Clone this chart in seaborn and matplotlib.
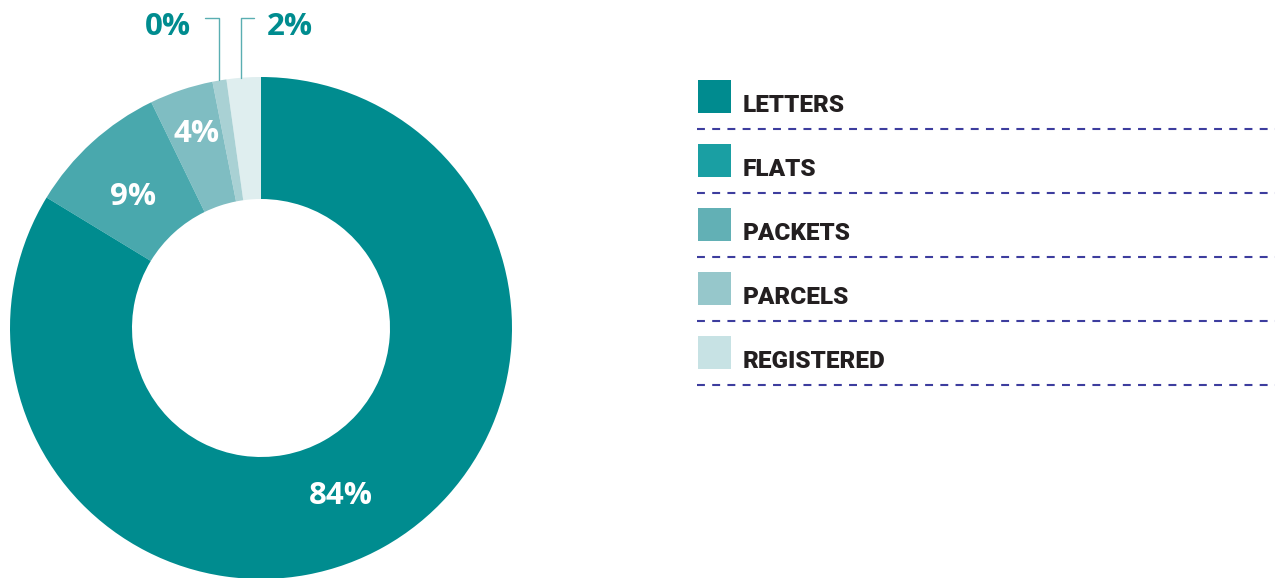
import matplotlib
matplotlib.use("Agg")
import matplotlib.pyplot as plt
import seaborn as sns
from matplotlib.patches import Rectangle

# data (percent share)
categories = ["REGISTERED", "PARCELS", "PACKETS", "FLATS", "LETTERS"]
shares = [2.2, 0.9, 4.1, 9.1, 83.7]
labels = ["2%", "0%", "4%", "9%", "84%"]
slice_colors = ["#dfeeef", "#a9d1d4", "#7fbdc2", "#49a8ad", "#008c8f"]

legend_names = ["LETTERS", "FLATS", "PACKETS", "PARCELS", "REGISTERED"]
legend_colors = ["#008b8f", "#1a9fa3", "#62b0b5", "#96c7cb", "#c7e2e4"]

sns.set_theme(style="white")
plt.rcParams['font.family'] = ['Open Sans', 'DejaVu Sans']

W, H = 1279, 578
fig = plt.figure(figsize=(W / 100, H / 100), dpi=100)
ax = fig.add_axes([0, 0, 1, 1])

cx, cy, R = 261, H - 328, 251
wedges, _ = ax.pie(shares, colors=slice_colors, startangle=90, counterclock=True,
                   center=(cx, cy), radius=R,
                   wedgeprops=dict(width=122, linewidth=0))
ax.set_xlim(0, W)
ax.set_ylim(0, H)
ax.set_aspect('auto')
ax.axis('off')

teal = "#008c8f"
# labels inside the ring
inner = {"84%": (341, 496), "9%": (133, 197), "4%": (197, 134)}
for lab, (x, y) in inner.items():
    ax.text(x, H - y, lab, color="white", fontsize=22.5, fontweight="bold",
            ha="center", va="center")

# small slices labelled outside, with leader lines
ax.text(168, H - 27, labels[1], color=teal, fontsize=22.5, fontweight="bold",
        ha="center", va="center")
ax.text(290, H - 27, labels[0], color=teal, fontsize=22.5, fontweight="bold",
        ha="center", va="center")
ax.plot([205, 219, 219], [H - 18, H - 18, H - 80], color="#5aaeb2", lw=1)
ax.plot([254, 241, 241], [H - 18, H - 18, H - 78], color="#5aaeb2", lw=1)

# legend with dashed separators
for i, (name, col) in enumerate(zip(legend_names, legend_colors)):
    top = 80 + i * 64
    ax.add_patch(Rectangle((698, H - top - 33), 33, 33, color=col, lw=0))
    ax.text(743, H - top - 32, name, color="#231f20", fontsize=17.5,
            fontweight="black", family=['Roboto', 'DejaVu Sans'],
            ha="left", va="baseline")
    ax.plot([697, 1275], [H - top - 48.5, H - top - 48.5], color="#3d3d9e",
            lw=1.5, ls=(0, (3.8, 3.5)), solid_capstyle="butt",
            dash_capstyle="butt")

fig.savefig("out.png", dpi=100)
